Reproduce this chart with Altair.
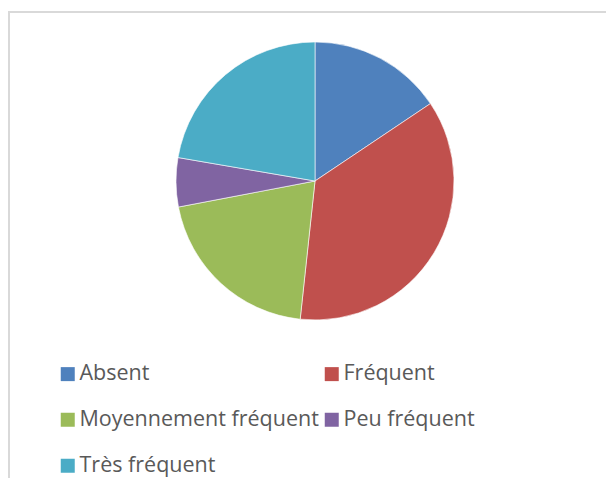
import altair as alt
import pandas as pd

categories = ["Absent", "Fréquent", "Moyennement fréquent", "Peu fréquent", "Très fréquent"]
values = [15.6, 36.1, 20.3, 5.7, 22.3]
colors = ["#4F81BD", "#C0504D", "#9BBB59", "#8064A2", "#4BACC6"]

df = pd.DataFrame({"cat": categories, "val": values, "idx": list(range(len(categories)))})

W, H = 598, 470

pie = alt.Chart(df).mark_arc(radius=139, stroke="white", strokeWidth=0.6).encode(
    theta=alt.Theta("val:Q", stack=True),
    order=alt.Order("idx:Q"),
    color=alt.Color(
        "cat:N",
        scale=alt.Scale(domain=categories, range=colors),
        legend=alt.Legend(
            title=None,
            orient="none",
            legendX=49,
            legendY=355,
            direction="horizontal",
            columns=2,
            columnPadding=2,
            rowPadding=23,
            symbolType="square",
            symbolSize=196,
            symbolStrokeWidth=0,
            labelFont="Open Sans",
            labelFontSize=21.5,
            labelColor="#595959",
            labelOffset=1,
            labelLimit=400,
            padding=0,
        ),
    ),
    x=alt.value(307),
    y=alt.value(173),
)

top = alt.Chart(df).mark_rule(color="#D9D9D9", strokeWidth=2).encode(
    x=alt.value(0), x2=alt.value(W), y=alt.value(4)
)
left = alt.Chart(df).mark_rule(color="#D9D9D9", strokeWidth=2).encode(
    x=alt.value(1), y=alt.value(3), y2=alt.value(H)
)

chart = alt.layer(top, left, pie).properties(
    width=W, height=H, padding=0, autosize=alt.AutoSizeParams(type="none")
).configure_view(stroke=None)

chart.save("out.html", embed_options={"renderer": "svg", "actions": False})
